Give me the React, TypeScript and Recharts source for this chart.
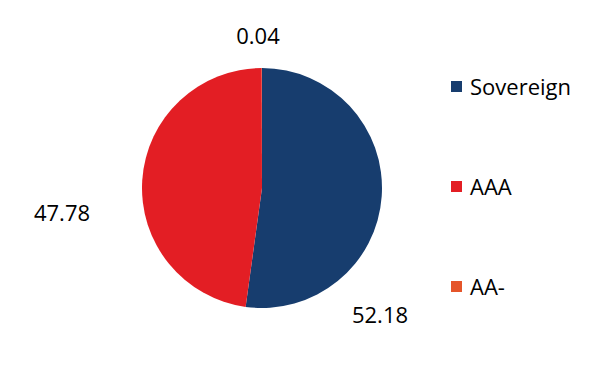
import { PieChart, Pie, Cell, Legend } from "recharts";

const ratings = ["Sovereign", "AAA", "AA-"];
const shares = [52.18, 47.78, 0.04];
const colors = ["#173D6E", "#E31E24", "#E5552A"];

// where Excel placed each data label, relative to the pie centre
const labelOffsets = [
  { dx: 118, dy: 126 },
  { dx: -200, dy: 24 },
  { dx: -4, dy: -153 },
];

const data = ratings.map((name, i) => ({ name, value: shares[i] }));

const FONT = "'Open Sans', 'Noto Sans', sans-serif";

function renderLabel(props: any) {
  const { cx, cy, index, value } = props;
  const off = labelOffsets[index];
  return (
    <text
      x={cx + off.dx}
      y={cy + off.dy}
      textAnchor="middle"
      dominantBaseline="central"
      fill="#000"
      fontSize={22}
      fontFamily={FONT}
    >
      {value.toFixed(2)}
    </text>
  );
}

function LegendBox() {
  return (
    <div style={{ fontFamily: FONT, fontSize: 22, color: "#000" }}>
      {data.map((d, i) => (
        <div
          key={d.name}
          style={{ display: "flex", alignItems: "center", height: 100 }}
        >
          <span
            style={{
              display: "inline-block",
              width: 11,
              height: 11,
              background: colors[i],
              marginRight: 8,
            }}
          />
          <span>{d.name}</span>
        </div>
      ))}
    </div>
  );
}

export default function App() {
  return (
    <div style={{ position: "absolute", left: 0, top: 0, background: "#fff" }}>
      <PieChart width={610} height={373} margin={{ top: 0, right: 0, bottom: 0, left: 0 }}>
        <Pie
          data={data}
          dataKey="value"
          nameKey="name"
          cx={262}
          cy={188}
          outerRadius={120}
          startAngle={90}
          endAngle={-270}
          stroke="none"
          label={renderLabel}
          labelLine={false}
          isAnimationActive={false}
        >
          {data.map((d, i) => (
            <Cell key={d.name} fill={colors[i]} />
          ))}
        </Pie>
        <Legend
          content={<LegendBox />}
          wrapperStyle={{ position: "absolute", left: 451, top: 36, width: 150 }}
        />
      </PieChart>
    </div>
  );
}
